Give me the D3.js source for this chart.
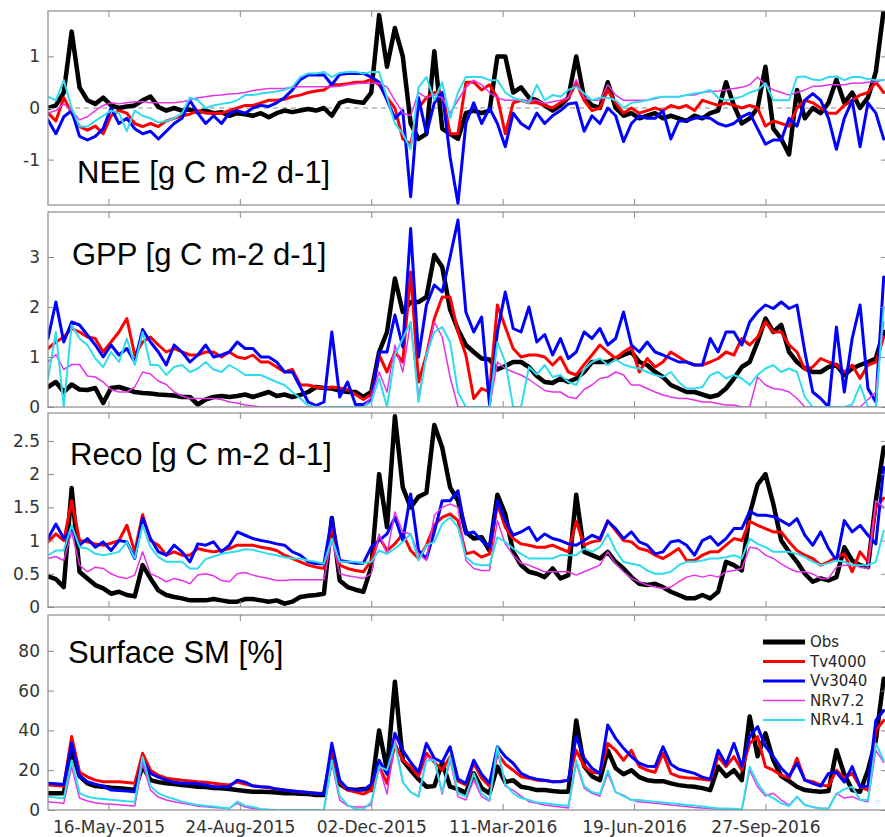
<!DOCTYPE html>
<html>
<head>
<meta charset="utf-8">
<script src="https://cdn.jsdelivr.net/npm/d3@7"></script>
<style>
  body { margin: 0; background: #fff; }
  svg { display: block; }
</style>
</head>
<body>
<svg id="chart" width="885" height="837"></svg>
<script>
// ---- sampling grid (one value every 6 days from 31-Mar-2015) ----
const sampleStart = "2015-03-31";
const sampleStepDays = 6;
const sampleCount = 107;
const tickDates = ["2015-05-16", "2015-08-24", "2015-12-02", "2016-03-11", "2016-06-19", "2016-09-27"];
const seriesNames = ["Obs", "Tv4000", "Vv3040", "NRv7.2", "NRv4.1"];

// ---- NEE [g C m-2 d-1] ----
const neeTicks = [-1, 0, 1];
const neeObs = [
  0.0, 0.05, 0.3, 1.48, 0.4, 0.15, 0.08, 0.2, 0.05, 0.0,
  0.03, 0.05, 0.15, 0.22, 0.02, -0.05, 0.0, -0.05, -0.03, -0.08,
  -0.05, -0.1, -0.08, -0.15, -0.1, -0.12, -0.15, -0.1, -0.18, -0.1,
  -0.05, -0.08, -0.05, -0.02, -0.05, 0.0, -0.15, 0.1, 0.15, 0.12,
  0.1, 0.3, 1.8, 0.8, 1.55, 1.0, -0.3, -0.6, -0.5, 1.1,
  -0.4, -0.5, -0.6, -0.1, -0.05, -0.1, -0.05, 1.0, 1.0, 0.3,
  0.4, 0.2, 0.15, 0.05, -0.05, 0.05, 0.2, 1.0, 0.2, 0.05,
  0.0, 0.5, 0.0, -0.15, -0.1, -0.2, -0.15, -0.1, -0.2, -0.15,
  -0.2, -0.25, -0.15, -0.2, -0.1, -0.05, 0.5, 0.05, -0.3, -0.2,
  0.0, 0.8, -0.4, -0.6, -0.9, 0.35, -0.2, 0.0, -0.1, 0.1,
  0.55, 0.1, 0.3, 0.0, 0.2, 0.7, 1.9
];
const neeTv = [
  -0.1, -0.25, 0.2, -0.1, -0.36, -0.43, -0.35, -0.5, -0.15, -0.05,
  -0.1, -0.3, -0.36, -0.3, -0.36, -0.25, -0.2, -0.15, -0.12, -0.05,
  -0.1, -0.1, -0.1, -0.05, 0.0, 0.05, 0.05, 0.1, 0.15, 0.15,
  0.17, 0.22, 0.25, 0.3, 0.33, 0.35, 0.45, 0.45, 0.47, 0.5,
  0.5, 0.55, 0.45, 0.2, 0.0, -0.6, -0.7, 0.0, 0.2, 0.3,
  0.3, -0.5, -0.5, 0.5, 0.5, 0.35, 0.45, 0.2, -0.5, 0.1,
  0.15, 0.1, 0.1, 0.05, 0.0, 0.1, 0.2, 0.48, 0.15, -0.05,
  0.0, 0.35, 0.1, -0.1, 0.0, -0.1, -0.05, 0.0, -0.05, 0.05,
  0.0, 0.05, -0.05, 0.15, 0.1, 0.05, 0.1, 0.05, 0.0, 0.05,
  0.0, -0.35, -0.25, -0.3, -0.35, 0.0, 0.15, 0.1, 0.0, -0.1,
  -0.1, 0.05, 0.15, 0.25, 0.3, 0.5, 0.3
];
const neeVv = [
  -0.23, -0.5, -0.17, -0.05, -0.55, -0.62, -0.55, -0.4, 0.0, -0.3,
  -0.2, -0.4, -0.5, -0.45, -0.6, -0.45, -0.3, -0.2, 0.15, -0.1,
  -0.3, -0.15, -0.3, -0.1, -0.05, -0.1, 0.0, 0.05, 0.03, 0.1,
  0.2, 0.35, 0.55, 0.64, 0.64, 0.64, 0.45, 0.65, 0.67, 0.67,
  0.67, 0.6, 0.5, 0.15, -0.2, -0.05, -1.72, 0.2, -0.5, 0.1,
  0.3, -0.95, -1.85, -0.3, 0.1, -0.3, 0.0, -0.3, -0.75, -0.1,
  -0.3, -0.4, -0.1, -0.3, -0.15, -0.05, 0.08, 0.1, -0.45, -0.15,
  -0.3, 0.0, -0.15, -0.65, -0.3, -0.15, -0.2, -0.2, -0.05, -0.6,
  -0.25, -0.25, -0.2, -0.18, -0.2, -0.3, -0.35, -0.3, -0.17, -0.1,
  -0.4, -0.7, -0.62, -0.62, -0.2, -0.35, 0.15, 0.28, 0.15, -0.2,
  -0.8, -0.2, 0.15, -0.75, 0.1, -0.1, -0.6
];
const neeNr72 = [
  -0.1, -0.05, 0.08, -0.05, -0.23, -0.17, -0.05, 0.05, 0.1, 0.08,
  0.1, 0.12, 0.12, 0.1, 0.1, 0.1, 0.1, 0.12, 0.15, 0.2,
  0.22, 0.24, 0.25, 0.27, 0.28, 0.3, 0.34, 0.36, 0.38, 0.38,
  0.38, 0.4, 0.41, 0.41, 0.41, 0.41, 0.41, 0.42, 0.45, 0.47,
  0.48, 0.48, 0.48, 0.41, 0.15, -0.1, -0.15, 0.3, 0.2, 0.25,
  0.2, -0.1, 0.15, 0.4, 0.54, 0.45, 0.3, 0.2, 0.15, 0.15,
  0.15, 0.15, 0.15, 0.09, 0.12, 0.15, 0.2, 0.55, 0.2, 0.15,
  0.15, 0.45, 0.25, 0.15, 0.15, 0.15, 0.15, 0.18, 0.22, 0.22,
  0.22, 0.25, 0.25, 0.3, 0.32, 0.33, 0.35, 0.38, 0.4, 0.45,
  0.6, 0.45, 0.35, 0.3, 0.25, 0.3, 0.35, 0.42, 0.42, 0.45,
  0.45, 0.45, 0.48, 0.48, 0.5, 0.5, 0.55
];
const neeNr41 = [
  0.22, 0.15, 0.54, 0.0, -0.36, -0.36, -0.25, -0.15, -0.05, -0.1,
  -0.45, -0.05, -0.15, -0.2, -0.28, -0.25, -0.2, -0.1, 0.2, 0.15,
  0.0, 0.05, 0.08, 0.1, 0.15, 0.25, 0.25, 0.28, 0.3, 0.32,
  0.35, 0.41, 0.6, 0.67, 0.67, 0.7, 0.6, 0.68, 0.7, 0.7,
  0.67, 0.7, 0.7, 0.2, -0.3, -0.5, -0.8, 0.4, 0.6, 0.15,
  0.5, -0.2, 0.3, 0.6, 0.6, 0.6, 0.54, 0.54, 0.3, 0.2,
  0.15, 0.1, 0.45, 0.15, 0.25, 0.22, 0.35, 0.41, 0.28, 0.15,
  0.2, 0.2, 0.15, 0.0, 0.1, 0.12, 0.15, 0.2, 0.22, 0.22,
  0.22, 0.25, 0.28, 0.3, 0.35, 0.2, 0.15, 0.18, 0.22, 0.3,
  0.35, 0.48, 0.15, 0.15, 0.15, 0.6, 0.61, 0.55, 0.54, 0.6,
  0.61, 0.54, 0.6, 0.6, 0.56, 0.54, 0.54
];

// ---- GPP [g C m-2 d-1] ----
const gppTicks = [0, 1, 2, 3];
const gppObs = [
  0.4, 0.5, 0.3, 0.45, 0.35, 0.34, 0.38, 0.08, 0.38, 0.4,
  0.35, 0.3, 0.28, 0.27, 0.25, 0.24, 0.23, 0.2, 0.2, 0.05,
  0.15, 0.2, 0.22, 0.2, 0.22, 0.25, 0.2, 0.25, 0.3, 0.22,
  0.25, 0.2, 0.24, 0.3, 0.4, 0.38, 0.37, 0.33, 0.3, 0.3,
  0.2, 0.3, 1.1, 1.5, 2.57, 1.9, 2.1, 2.1, 2.2, 3.04,
  2.8, 1.95, 1.55, 1.24, 1.1, 0.97, 0.95, 0.75, 0.82, 0.9,
  0.9, 0.8, 0.62, 0.5, 0.48, 0.57, 0.5, 0.57, 0.7, 0.9,
  0.9, 0.9, 0.97, 1.04, 1.1, 0.9, 0.84, 0.7, 0.6, 0.44,
  0.37, 0.3, 0.3, 0.25, 0.2, 0.24, 0.37, 0.57, 0.8, 0.9,
  1.3, 1.77, 1.5, 1.64, 1.1, 0.9, 0.77, 0.7, 0.7, 0.8,
  0.84, 0.64, 0.77, 0.84, 0.9, 0.97, 1.5
];
const gppTv = [
  1.17, 1.3, 1.4, 1.57, 1.5, 1.4, 1.37, 1.1, 1.3, 1.5,
  1.77, 1.04, 1.3, 1.4, 1.24, 1.1, 1.17, 1.1, 1.04, 1.04,
  1.1, 1.1, 1.0, 1.1, 1.0, 0.97, 1.04, 0.9, 0.9, 0.8,
  0.7, 0.75, 0.44, 0.44, 0.4, 0.38, 0.4, 0.38, 0.35, 0.25,
  0.15, 0.25, 1.04, 0.7, 1.1, 0.9, 2.7, 0.5, 1.04, 1.77,
  2.2, 2.2, 1.5, 1.04, 0.17, 0.37, 0.3, 2.04, 1.6, 1.17,
  1.0, 1.04, 1.04, 1.0, 0.84, 1.0, 0.7, 0.64, 0.85, 1.04,
  1.24, 1.1, 0.97, 1.1, 1.2, 0.7, 0.97, 0.8, 0.9, 1.1,
  1.0, 0.9, 0.84, 0.84, 0.9, 0.97, 1.1, 1.04, 1.37, 1.24,
  1.4, 1.7, 1.5, 1.5, 1.24, 1.1, 0.75, 0.8, 0.97, 0.9,
  0.84, 0.7, 0.84, 0.57, 0.84, 0.9, 1.4
];
const gppVv = [
  1.37, 2.1, 1.3, 1.7, 1.64, 1.44, 1.24, 1.0, 1.24, 1.04,
  1.17, 0.9, 1.55, 1.3, 1.1, 0.84, 1.24, 1.1, 0.9, 1.04,
  1.24, 1.0, 1.04, 1.1, 1.3, 1.17, 1.17, 1.0, 1.0, 0.9,
  0.7, 0.7, 0.4, 0.1, 0.03, 0.1, 1.5, 0.2, 0.5, 0.05,
  0.05, 0.15, 1.1, 1.1, 1.84, 1.2, 3.57, 1.0, 2.04, 2.44,
  2.3, 3.0, 3.74, 1.9, 1.5, 1.8, 0.05, 1.5, 2.3, 1.57,
  1.5, 2.0, 1.3, 1.45, 1.04, 1.37, 0.97, 1.1, 1.5, 1.37,
  1.57, 1.24, 1.37, 1.9, 1.24, 1.1, 1.3, 1.1, 1.04, 0.97,
  0.9, 0.9, 0.84, 0.84, 1.37, 1.1, 1.5, 1.5, 1.24, 1.7,
  1.9, 2.04, 1.97, 2.1, 1.97, 2.04, 1.1, 0.3, 0.17, 0.0,
  1.6, 0.3, 1.37, 2.04, 0.37, 0.1, 2.6
];
const gppNr72 = [
  0.9, 1.05, 0.75, 0.85, 0.85, 0.62, 0.6, 0.5, 0.35, 0.3,
  0.3, 0.4, 0.7, 0.66, 0.52, 0.45, 0.3, 0.22, 0.17, 0.17,
  0.17, 0.17, 0.15, 0.1, 0.08, 0.04, 0.02, 0, 0, 0,
  0, 0, 0, 0, 0, 0, 0, 0, 0, 0,
  0, 0.2, 0.7, 0.3, 1.24, 0.7, 1.7, 0.2, 1.04, 1.7,
  1.4, 0.6, 0.0, 0, 0, 0, 0, 0.9, 0.77, 0.7,
  0.64, 0.55, 0.44, 0.33, 0.3, 0.3, 0.2, 0.17, 0.35, 0.44,
  0.57, 0.6, 0.7, 0.64, 0.44, 0.44, 0.37, 0.3, 0.24, 0.2,
  0.17, 0.17, 0.14, 0.1, 0.1, 0.07, 0.04, 0.04, 0, 0,
  0.6, 0.44, 0.37, 0.35, 0.3, 0.17, 0, 0, 0, 0,
  0, 0, 0, 0, 0.15, 0.3, 1.7
];
const gppNr41 = [
  0.57, 1.5, 0.0, 1.64, 1.37, 1.24, 0.97, 0.8, 1.1, 0.9,
  1.37, 0.84, 1.5, 0.84, 0.84, 0.64, 0.8, 0.84, 0.7, 0.77,
  0.9, 0.75, 0.7, 0.84, 0.75, 0.64, 0.64, 0.64, 0.57, 0.5,
  0.44, 0.3, 0.17, 0.03, 0, 0, 0, 0, 0, 0,
  0, 0.1, 0.57, 0.0, 1.04, 1.37, 1.7, 0.1, 1.04, 1.5,
  1.6, 1.3, 0.3, 0, 0, 0, 0, 1.3, 0.9, 0.0,
  0.0, 0.8, 0.65, 0.84, 0.6, 0.64, 0.5, 0.44, 0.75, 0.9,
  0.97, 0.84, 0.95, 0.85, 0.8, 0.77, 0.7, 0.64, 0.6, 0.7,
  0.5, 0.37, 0.37, 0.4, 0.64, 0.7, 0.57, 0.64, 0.57, 0.44,
  0.64, 0.77, 0.84, 0.7, 0.77, 0.7, 0.2, 0, 0, 0,
  0, 0, 0.05, 0.44, 0, 0, 2.0
];

// ---- Reco [g C m-2 d-1] ----
const recoTicks = [0, 0.5, 1, 1.5, 2, 2.5];
const recoObs = [
  0.46, 0.42, 0.3, 1.79, 0.53, 0.43, 0.33, 0.28, 0.2, 0.23,
  0.18, 0.16, 0.63, 0.43, 0.25, 0.18, 0.15, 0.13, 0.1, 0.1,
  0.1, 0.12, 0.1, 0.08, 0.08, 0.12, 0.12, 0.1, 0.08, 0.1,
  0.05, 0.08, 0.15, 0.17, 0.18, 0.2, 1.34, 0.4, 0.3, 0.26,
  0.23, 0.6, 2.0, 1.2, 2.87, 1.8, 1.5, 1.66, 1.72, 2.74,
  2.4, 1.8, 1.6, 1.13, 1.03, 1.05, 0.85, 1.69, 1.4, 0.83,
  0.63, 0.53, 0.5, 0.45, 0.58, 0.43, 0.48, 1.69, 0.83, 0.78,
  0.73, 0.83, 0.68, 0.58, 0.45, 0.35, 0.33, 0.35, 0.3, 0.23,
  0.18, 0.13, 0.13, 0.18, 0.13, 0.23, 0.68, 0.63, 0.55, 1.4,
  1.84, 2.0, 1.55, 1.0, 0.83, 0.68, 0.5, 0.38, 0.43, 0.4,
  0.45, 0.9, 0.7, 0.63, 0.6, 1.6, 2.4
];
const recoTv = [
  0.98, 1.1, 1.0, 1.6, 1.0, 0.98, 0.95, 0.93, 0.96, 1.0,
  1.23, 0.83, 1.39, 1.0, 0.93, 0.78, 0.83, 0.78, 0.78, 0.88,
  0.85, 0.83, 0.85, 0.88, 0.93, 0.93, 0.93, 0.9, 0.88, 0.85,
  0.78, 0.73, 0.68, 0.63, 0.6, 0.58, 1.23, 0.63, 0.58, 0.55,
  0.53, 0.7, 1.05, 0.85, 0.95, 1.1, 0.85, 0.73, 0.93, 1.23,
  1.35, 1.4, 1.3, 0.8, 0.83, 0.75, 0.8, 1.55, 1.2, 1.03,
  0.95, 0.93, 0.9, 0.9, 0.93, 0.88, 0.83, 1.29, 0.93, 0.98,
  1.0, 1.3, 1.15, 1.0, 0.98, 0.88, 0.85, 0.78, 0.73, 0.8,
  0.88, 0.7, 0.7, 0.78, 0.83, 0.83, 0.93, 1.03, 1.0, 1.29,
  1.23, 1.18, 1.13, 1.13, 0.98, 0.85, 0.78, 0.73, 0.63, 0.68,
  0.75, 0.8, 0.53, 0.83, 0.68, 1.5, 1.64
];
const recoVv = [
  1.03, 1.25, 1.03, 1.18, 0.93, 1.03, 0.9, 0.98, 0.85, 1.0,
  0.98, 0.73, 1.34, 1.03, 0.83, 0.78, 0.93, 0.83, 0.68, 0.95,
  0.93, 0.98, 0.83, 0.93, 1.13, 1.08, 1.03, 1.0, 0.98, 0.95,
  0.93, 0.83, 0.78, 0.68, 0.65, 0.65, 1.34, 0.7, 0.68, 0.66,
  0.66, 0.9, 1.0, 1.1, 1.35, 1.0, 1.7, 0.85, 0.73, 1.13,
  1.6, 1.6, 1.75, 1.1, 1.13, 1.0, 0.9, 1.6, 1.3, 1.08,
  1.13, 1.2, 1.0, 1.1, 1.03, 1.0, 0.95, 0.93, 1.0, 1.08,
  1.03, 1.29, 1.18, 1.03, 1.13, 0.98, 0.93, 0.8, 0.83, 0.98,
  1.0, 0.93, 0.78, 1.0, 1.06, 0.93, 1.03, 1.18, 1.18, 1.44,
  1.38, 1.38, 1.36, 1.3, 1.23, 1.33, 1.08, 0.93, 1.13, 0.88,
  0.7, 1.3, 1.13, 1.23, 1.08, 0.95, 2.1
];
const recoNr72 = [
  0.73, 0.76, 0.7, 1.13, 0.63, 0.53, 0.6, 0.58, 0.5, 0.45,
  0.43, 0.48, 0.83, 0.5, 0.45, 0.38, 0.43, 0.4, 0.35, 0.48,
  0.5, 0.47, 0.4, 0.38, 0.5, 0.52, 0.48, 0.45, 0.43, 0.4,
  0.4, 0.41, 0.41, 0.41, 0.41, 0.41, 1.03, 0.5, 0.47, 0.45,
  0.43, 0.5, 1.1, 0.8, 1.43, 1.13, 1.1, 0.8, 0.7, 1.38,
  1.5, 1.55, 1.5, 0.7, 0.58, 0.55, 0.55, 1.3, 0.95, 0.78,
  0.66, 0.63, 0.58, 0.53, 0.53, 0.53, 0.53, 0.48, 0.53, 0.58,
  0.63, 0.83, 0.65, 0.53, 0.43, 0.38, 0.33, 0.3, 0.28, 0.3,
  0.38, 0.45, 0.48, 0.45, 0.48, 0.45, 0.53, 0.55, 0.58, 0.9,
  0.88, 0.78, 0.73, 0.65, 0.58, 0.53, 0.53, 0.5, 0.43, 0.43,
  0.6, 0.63, 0.63, 0.6, 0.58, 1.6, 1.5
];
const recoNr41 = [
  0.78, 0.85, 0.85, 1.23, 0.9, 0.88, 0.8, 0.78, 0.8, 0.83,
  0.98, 0.73, 1.23, 0.9, 0.75, 0.68, 0.68, 0.68, 0.58, 0.58,
  0.72, 0.76, 0.8, 0.82, 0.84, 0.87, 0.86, 0.83, 0.8, 0.78,
  0.75, 0.73, 0.73, 0.7, 0.68, 0.65, 1.03, 0.68, 0.68, 0.68,
  0.66, 0.68, 0.85, 0.8, 0.88, 0.98, 1.1, 0.7, 0.93, 0.98,
  1.25, 1.35, 1.2, 0.75, 0.65, 0.63, 0.63, 1.05, 0.98, 0.88,
  0.8, 0.73, 0.73, 0.73, 0.73, 0.78, 0.78, 0.78, 0.88, 0.83,
  0.9, 1.1, 0.85, 0.68, 0.65, 0.63, 0.55, 0.5, 0.5, 0.53,
  0.63, 0.68, 0.68, 0.7, 0.73, 0.73, 0.75, 0.78, 0.73, 1.03,
  0.95, 0.9, 0.83, 0.83, 0.83, 0.8, 0.75, 0.68, 0.63, 0.66,
  0.7, 0.68, 0.63, 0.63, 0.63, 0.68, 1.15
];

// ---- Surface SM [%] ----
const smTicks = [0, 20, 40, 60, 80];
const smObs = [
  8.4, 8.4, 8.4, 30, 17, 13.4, 12, 11.7, 11.2, 10.9,
  10.5, 10, 22, 15, 14, 13.4, 13, 12.6, 12.2, 11.7,
  11.5, 11, 10.9, 10.5, 10, 9.6, 9.2, 9.2, 9, 8.8,
  8.4, 8.4, 8.2, 8, 7.5, 7.5, 26.8, 13, 10.5, 10,
  10.5, 10, 40, 20, 64.5, 25, 20, 15.5, 11.7, 12,
  24, 11.7, 10.5, 8.6, 18.4, 11, 8.4, 21.8, 14, 15,
  11.7, 11, 10, 10, 9.5, 9.2, 9.2, 45, 22, 17,
  15, 30, 21, 18, 20, 16.5, 15, 14.5, 14.5, 13.4,
  12.5, 12, 11.7, 11, 10, 21.8, 17, 20, 15, 47,
  27, 38.5, 25, 17, 14.5, 11.7, 10, 9.5, 9.2, 9.5,
  30, 18, 10, 9.2, 20, 35, 66
];
const smTv = [
  12.6, 12.3, 12, 36.9, 19, 16.7, 15, 14.2, 14.2, 14.2,
  13.8, 13.4, 28.5, 20, 17.5, 16, 15.5, 15, 14.6, 14.2,
  14, 13.4, 13, 12.6, 14, 13, 12.2, 11.7, 11.2, 10.5,
  10, 9.6, 9.2, 8.8, 8.4, 8.4, 30, 14, 10, 9,
  8, 10, 21.8, 13.4, 33.5, 25, 21.8, 17, 28.5, 24,
  20, 26.8, 14.5, 12.6, 23.5, 16, 12, 28.5, 23, 20,
  16.75, 16, 15, 14.8, 14.2, 14.5, 15, 30, 22, 19,
  18.4, 33.5, 30, 25, 30, 21.8, 20, 19, 28.5, 18.4,
  16.75, 16.2, 15.9, 15.5, 15, 26.8, 21.8, 26.8, 20, 33.5,
  36.9, 21.8, 20, 17.5, 16, 26, 15, 14.2, 12.6, 12,
  20, 16, 18.4, 11.7, 10, 40, 45
];
const smVv = [
  13.4, 13.2, 12.8, 33.5, 17, 14.2, 13, 12, 10, 9.8,
  9.5, 9.2, 25, 18.4, 16.5, 15, 14, 13.4, 13.4, 13.2,
  12.6, 11.7, 11.7, 11.7, 15, 14, 12, 11.7, 11.5, 10.5,
  10, 9.6, 9.2, 8.8, 8.4, 8, 33.5, 15, 10.5, 10,
  10, 13, 25, 18, 38.5, 30, 24, 19, 33.5, 26,
  24, 31.8, 15.5, 13.4, 25, 18, 13.4, 31.8, 26.8, 23.5,
  18.4, 16.5, 15.5, 15, 14.2, 14.2, 15, 36.9, 26, 21,
  18.4, 42.7, 36, 31, 26.8, 23.5, 22, 21.8, 31.8, 23,
  20.5, 19.5, 18.4, 16.5, 15.5, 30, 23, 33.5, 22, 36.9,
  41.9, 32, 26.8, 21, 17, 23.5, 15, 13.4, 12, 18.4,
  19, 14, 21.8, 11.7, 12, 45, 50
];
const smNr72 = [
  4.2, 3.8, 3.4, 21.8, 6, 4.5, 3.6, 3.2, 2.9, 2.6,
  2.3, 2.0, 23.5, 10, 6.5, 5, 4.2, 3.4, 2.8, 1.9,
  1.6, 1.3, 1.0, 0.8, 3.3, 1.5, 0.8, 0.3, 0, 0,
  0, 0, 0, 0, 0, 0, 23.5, 5, 2, 1.5,
  1.5, 2.5, 21.8, 8, 35.2, 14, 9, 7, 26.8, 25,
  8, 25, 6.7, 5, 15, 6.7, 4.5, 30, 12, 10,
  7, 4.2, 3.4, 2.5, 2.0, 1.5, 1.0, 23.5, 11, 8.4,
  7, 18.4, 9, 7.5, 5, 4.2, 3.8, 3.4, 3, 2.5,
  2.1, 1.7, 1.3, 1.0, 0.8, 0.5, 0.3, 0, 0, 20,
  11.7, 7, 8.4, 5, 2.5, 6.7, 2.5, 1.5, 0.8, 0.8,
  8.4, 6, 6.7, 5, 4.2, 30, 24
];
const smNr41 = [
  6.7, 6.3, 5.9, 25, 8.5, 6.7, 5.9, 5.5, 5.1, 4.8,
  4.4, 4.2, 26.8, 12, 8.4, 6.7, 5.5, 4.2, 3.3, 2.5,
  2.1, 1.7, 1.3, 0.8, 4.2, 2.2, 1.5, 0.5, 0.2, 0,
  0, 0, 0, 0, 0, 0, 25, 7, 2.5, 0.5,
  0.3, 4, 21.8, 20, 33.5, 14, 9, 6.7, 25, 25,
  9, 26.8, 8.4, 6.7, 18.4, 8.4, 5, 31.8, 13, 8.4,
  6, 5, 3.8, 3.35, 2.9, 2.5, 2.0, 25, 12, 9,
  8, 20, 9, 7, 5, 5, 4.5, 4.2, 3.8, 3.35,
  3, 2.5, 2.2, 1.7, 1.2, 0.8, 0.8, 0.6, 0.3, 21.8,
  13.4, 8, 6, 3.35, 2, 6.7, 2.5, 1.5, 0.8, 0.8,
  8, 10.5, 11.7, 5, 5, 33.5, 25
];

// ---- styling and layout ----
const seriesStyle = {
  "Obs":    { color: "#000000", width: 4.5 },
  "Tv4000": { color: "#ff0000", width: 3 },
  "Vv3040": { color: "#0000ff", width: 3 },
  "NRv7.2": { color: "#e632e6", width: 1.5 },
  "NRv4.1": { color: "#2fdcee", width: 2 }
};

const panels = [
  { id: "nee",  top: 11,  bottom: 205, domain: [-1.88, 1.88], ticks: neeTicks,
    title: "NEE [g C m-2 d-1]",  tx: 77, ty: 183, zeroLine: true,
    data: [neeObs, neeTv, neeVv, neeNr72, neeNr41] },
  { id: "gpp",  top: 212, bottom: 407, domain: [0, 3.9], ticks: gppTicks,
    title: "GPP [g C m-2 d-1]",  tx: 72, ty: 265,
    data: [gppObs, gppTv, gppVv, gppNr72, gppNr41] },
  { id: "reco", top: 413, bottom: 607, domain: [0, 2.92], ticks: recoTicks,
    title: "Reco [g C m-2 d-1]", tx: 70, ty: 465,
    data: [recoObs, recoTv, recoVv, recoNr72, recoNr41] },
  { id: "sm",   top: 615, bottom: 810, domain: [0, 98], ticks: smTicks,
    title: "Surface SM [%]",     tx: 68, ty: 663, legend: true, dateLabels: true,
    data: [smObs, smTv, smVv, smNr72, smNr41] }
];

const plotLeft = 48, plotRight = 887;
const frameColor = "#8a8a8a";
const tickTextColor = "#333333";
const axisFont = "'DejaVu Sans', sans-serif";
const titleFont = "'Liberation Sans', Arial, sans-serif";

const parseDay = d3.utcParse("%Y-%m-%d");
const t0 = parseDay(sampleStart);
const dates = d3.range(sampleCount).map(i => d3.utcDay.offset(t0, i * sampleStepDays));
const tickDateObjs = tickDates.map(parseDay);

const x = d3.scaleUtc()
  .domain([t0, new Date(Date.UTC(2016, 11, 28, 12))])
  .range([plotLeft, plotRight]);

const svg = d3.select("#chart");
svg.append("rect").attr("width", 885).attr("height", 837).attr("fill", "#fff");

function styleAxis(g, showText) {
  g.select(".domain").remove();
  g.selectAll(".tick line").attr("stroke", frameColor).attr("stroke-width", 1);
  if (showText) {
    g.selectAll(".tick text")
      .attr("fill", tickTextColor)
      .style("font-family", axisFont)
      .style("font-size", "17px");
  } else {
    g.selectAll(".tick text").remove();
  }
}

panels.forEach(p => {
  const y = d3.scaleLinear().domain(p.domain).range([p.bottom, p.top]);
  const g = svg.append("g").attr("class", "panel-" + p.id);

  const clipId = "clip-" + p.id;
  g.append("clipPath").attr("id", clipId)
    .append("rect")
    .attr("x", plotLeft).attr("y", p.top)
    .attr("width", plotRight - plotLeft).attr("height", p.bottom - p.top);

  const plot = g.append("g").attr("clip-path", `url(#${clipId})`);

  if (p.zeroLine) {
    plot.append("line")
      .attr("x1", plotLeft).attr("x2", plotRight)
      .attr("y1", y(0)).attr("y2", y(0))
      .attr("stroke", "#8c8c8c").attr("stroke-width", 1)
      .attr("stroke-dasharray", "5,4");
  }

  const line = d3.line()
    .defined(d => d != null)
    .x((d, i) => x(dates[i]))
    .y(d => y(d));

  p.data.forEach((vals, k) => {
    const st = seriesStyle[seriesNames[k]];
    plot.append("path")
      .datum(vals)
      .attr("d", line)
      .attr("fill", "none")
      .attr("stroke", st.color)
      .attr("stroke-width", st.width)
      .attr("stroke-linejoin", "round")
      .attr("stroke-linecap", "round");
  });

  // frame
  g.append("rect")
    .attr("x", plotLeft).attr("y", p.top)
    .attr("width", plotRight - plotLeft).attr("height", p.bottom - p.top)
    .attr("fill", "none").attr("stroke", frameColor).attr("stroke-width", 1.2);

  // y axes (ticks point inward)
  g.append("g").attr("transform", `translate(${plotLeft},0)`)
    .call(d3.axisLeft(y).tickValues(p.ticks).tickSize(-6).tickPadding(8).tickFormat(d => String(d)))
    .call(ax => styleAxis(ax, true));
  g.append("g").attr("transform", `translate(${plotRight},0)`)
    .call(d3.axisRight(y).tickValues(p.ticks).tickSize(-6))
    .call(ax => styleAxis(ax, false));

  // x axes top and bottom
  g.append("g").attr("transform", `translate(0,${p.top})`)
    .call(d3.axisTop(x).tickValues(tickDateObjs).tickSize(-6))
    .call(ax => styleAxis(ax, false));
  g.append("g").attr("transform", `translate(0,${p.bottom})`)
    .call(d3.axisBottom(x).tickValues(tickDateObjs).tickSize(-6).tickPadding(11)
      .tickFormat(d3.utcFormat("%d-%b-%Y")))
    .call(ax => styleAxis(ax, !!p.dateLabels));

  // panel title
  g.append("text")
    .attr("x", p.tx).attr("y", p.ty)
    .attr("fill", "#000")
    .style("font-family", titleFont)
    .style("font-size", "31px")
    .text(p.title);

  if (p.legend) {
    const lg = g.append("g").attr("class", "legend");
    const rowY = [27, 46.5, 66, 85.5, 105];
    seriesNames.forEach((name, k) => {
      const st = seriesStyle[name];
      const yy = p.top + rowY[k];
      lg.append("line")
        .attr("x1", 763).attr("x2", 805).attr("y1", yy).attr("y2", yy)
        .attr("stroke", st.color).attr("stroke-width", name === "Obs" ? 5 : st.width);
      lg.append("text")
        .attr("x", 810).attr("y", yy).attr("dy", "0.36em")
        .attr("fill", "#262626")
        .style("font-family", axisFont)
        .style("font-size", "15px")
        .text(name);
    });
  }
});
</script>
</body>
</html>
